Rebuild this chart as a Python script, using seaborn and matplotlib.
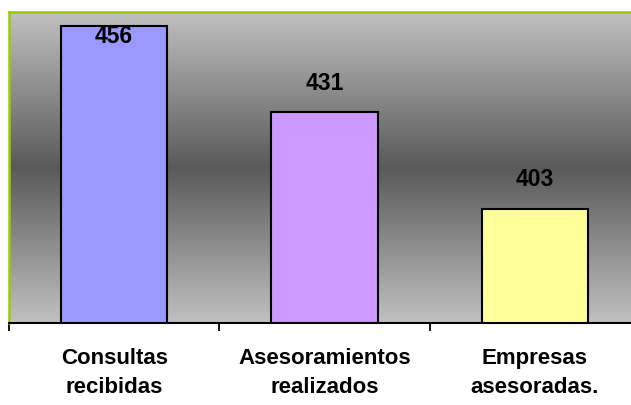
import numpy as np
import pandas as pd
import matplotlib
matplotlib.use("Agg")
import matplotlib.pyplot as plt
import seaborn as sns
from matplotlib.colors import LinearSegmentedColormap

categories = ["Consultas\nrecibidas", "Asesoramientos\nrealizados", "Empresas\nasesoradas."]
values = [456, 431, 403]
bar_colors = ["#9999ff", "#cc99ff", "#ffff99"]

sns.set_theme(style="white")
plt.rcParams['font.family'] = ['Liberation Sans', 'DejaVu Sans']

df = pd.DataFrame({"cat": categories, "val": values})

fig = plt.figure(figsize=(6.31, 4.05), dpi=100)
ax = fig.add_axes([9/631, (405-323)/405, 631/631, (323-12)/405])

# gradient background (light - dark - light)
cmap = LinearSegmentedColormap.from_list("g", ["#c0c0c0", "#5a5a5a", "#c0c0c0"])
grad = np.linspace(0, 1, 256).reshape(-1, 1)
ax.imshow(grad, aspect="auto", cmap=cmap, extent=[0, 1, 0, 1],
          transform=ax.transAxes, zorder=0)

sns.barplot(data=df, x="cat", y="val", hue="cat", palette=bar_colors,
            saturation=1, width=0.505, edgecolor="black", linewidth=1.5,
            legend=False, ax=ax, zorder=2)

ymin, ymax = 370, 460
ax.set_xlim(-0.5, 2.5)
ax.set_ylim(ymin, ymax)

for i, v in enumerate(values):
    if v + 9 > ymax:
        ax.annotate(str(v), (i, v), xytext=(0, -7.5), textcoords="offset points",
                    ha="center", va="center", fontsize=16.5, fontweight="bold",
                    color="black", zorder=3)
    else:
        ax.annotate(str(v), (i, v), xytext=(0, 21), textcoords="offset points",
                    ha="center", va="center", fontsize=16.5, fontweight="bold",
                    color="black", zorder=3)

ax.set_xlabel("")
ax.set_ylabel("")
ax.set_yticks([])
ax.set_xticks([0, 1, 2])
ax.set_xticklabels(categories, fontsize=16, fontweight="bold", linespacing=1.5)
ax.tick_params(axis="x", which="major", length=0, pad=18, colors="black")
ax.set_xticks([-0.5, 0.5, 1.5, 2.5], minor=True)
ax.tick_params(axis="x", which="minor", length=6, width=1.3, direction="out",
               color="black", bottom=True)

for s in ["left", "top", "right"]:
    ax.spines[s].set_color("#99cc00")
    ax.spines[s].set_linewidth(1.8)
ax.spines["bottom"].set_color("black")
ax.spines["bottom"].set_linewidth(1.5)

fig.savefig("out.png", dpi=100, facecolor="white")
